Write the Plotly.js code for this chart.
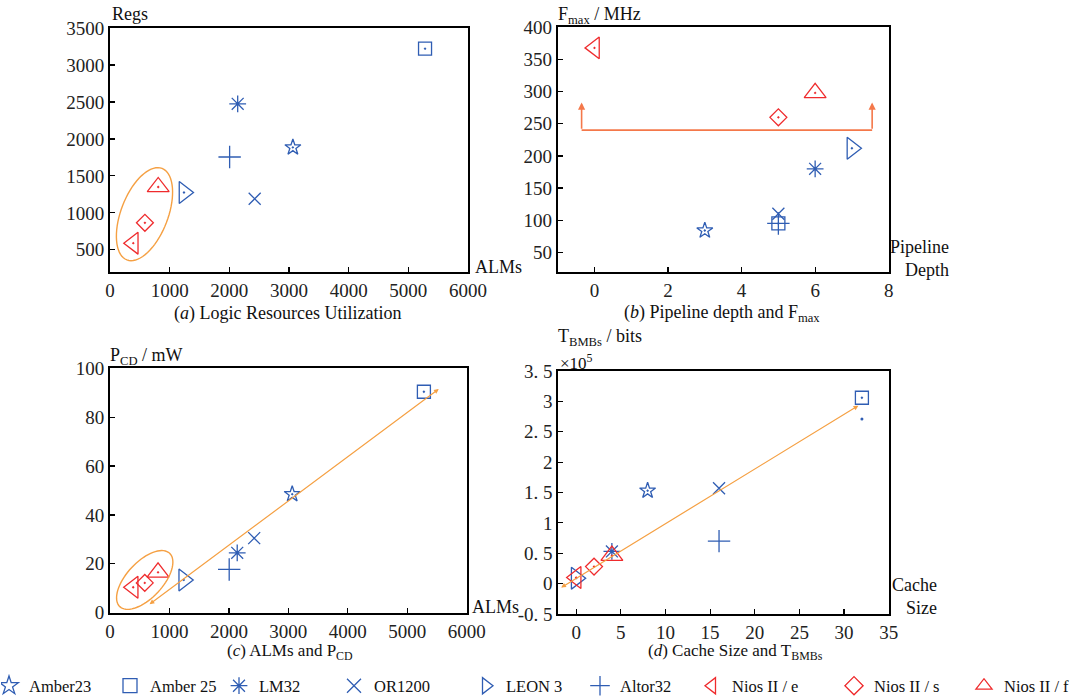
<!DOCTYPE html>
<html><head><meta charset="utf-8">
<script src="https://cdn.plot.ly/plotly-3.0.1.min.js"></script>
<style>html,body{margin:0;padding:0;background:#fff}</style>
</head><body><div id="chart" style="width:1084px;height:697px"></div>
<script>
// ---------- data ----------
const processors    = ['Amber23','Amber 25','LM32','OR1200','LEON 3','Altor32','Nios II / e','Nios II / s','Nios II / f'];
const alms          = [3065, 5280, 2140, 2425, 1240, 2005, 390, 585, 808];
const regs          = [1885, 3220, 2475, 1190, 1275, 1755, 590, 865, 1350];
const pipelineDepth = [3, 5, 6, 5, 7, 5, 0, 5, 6];
const fmaxMHz       = [84, 95, 180, 110, 212, 95, 368, 260, 298];
const pcdMW         = [48.5, 90.4, 24.5, 30.5, 13.4, 17.7, 10.4, 12.2, 16.5];
const cacheSize     = [8, 32, 4, 16, 0, 16, 0, 2, 4];
const tbmbsE5       = [1.53, 3.06, 0.53, 1.57, 0.09, 0.70, 0.10, 0.28, 0.46];
const strayCache    = [32];
const strayTbmbsE5  = [2.71];
const yTicksD       = [-0.5, 0, 0.5, 1, 1.5, 2, 2.5, 3, 3.5];
const yTickTextD    = ['-0. 5','0','0. 5','1','1. 5','2','2. 5','3','3. 5'];

// ---------- styles ----------
const BLUE = '#2f5db3', RED = '#ef2b2d', ORANGE = '#f5a043', ORANGE2 = '#f4784a';
const symbols    = ['star-open-dot','square-open-dot','asterisk-open','x-thin-open','triangle-right-open-dot','cross-thin-open','triangle-left-open-dot','diamond-open-dot','triangle-up-open-dot'];
const legSymbols = ['star-open','square-open','asterisk-open','x-thin-open','triangle-right-open','cross-thin-open','triangle-left-open','diamond-open','triangle-up-open'];
const colors  = [BLUE,BLUE,BLUE,BLUE,BLUE,BLUE,RED,RED,RED];
const sizes   = [12, 13, 14, 12, 19, 16, 19, 13, 19];
const legendX = [10, 131, 240, 355, 487, 601, 713, 855, 985];
const W = 1084, H = 697;
const M = {l:14, r:10, t:0, b:36};
const PW = W - M.l - M.r, PH = H - M.t - M.b;
const px2x = px => (px - M.l)/PW;
const py2y = py => (H - M.b - py)/PH;
const FONT = 'Liberation Serif';

const dom = {
  a: {x:[110, 468],   y:[272, 28],    xr:[0,6000], yr:[200,3500]},
  b: {x:[557.7,888.7],y:[271.7,27.3], xr:[-1,8],   yr:[20,400]},
  c: {x:[110,466.7],  y:[612.7,368.3],xr:[0,6000], yr:[0,100]},
  d: {x:[558.3,888.7],y:[614,371],    xr:[-2,35],  yr:[-0.5,3.5]}
};

const traces = [];
const panels = [
  {xa:'x',  ya:'y',  xs:alms,          ys:regs},
  {xa:'x2', ya:'y2', xs:pipelineDepth, ys:fmaxMHz},
  {xa:'x3', ya:'y3', xs:alms,          ys:pcdMW},
  {xa:'x4', ya:'y4', xs:cacheSize,     ys:tbmbsE5}
];
panels.forEach(p => {
  processors.forEach((name, i) => {
    traces.push({
      type:'scatter', mode:'markers', name:name,
      x:[p.xs[i]], y:[p.ys[i]], xaxis:p.xa, yaxis:p.ya,
      legendgroup:name, showlegend:false,
      marker:{symbol:symbols[i], color:colors[i], size:sizes[i], line:{color:colors[i], width:1.3}},
      cliponaxis:false
    });
  });
});
traces.push({type:'scatter', mode:'markers', x:strayCache, y:strayTbmbsE5, xaxis:'x4', yaxis:'y4',
  showlegend:false, marker:{color:BLUE, size:3}});
// legend entries (no data, legend symbol only)
processors.forEach((name, i) => {
  traces.push({type:'scatter', mode:'markers', name:name, x:[null], y:[null], xaxis:'x', yaxis:'y',
    legendgroup:name, showlegend:true, legend: i===0 ? 'legend' : 'legend'+(i+1),
    marker:{symbol:legSymbols[i], color:colors[i], size:14, line:{color:colors[i], width:1.3}}});
});

// ellipse path generator (pixel shape -> data coords)
function ellipsePath(d, cx, cy, a, b, thetaDeg){
  const pxX = (d.x[1]-d.x[0])/(d.xr[1]-d.xr[0]);
  const pxY = (d.y[0]-d.y[1])/(d.yr[1]-d.yr[0]);
  const th = thetaDeg*Math.PI/180;
  const u = [Math.sin(th), -Math.cos(th)], v = [Math.cos(th), Math.sin(th)];
  let s = '';
  for (let k=0;k<=72;k++){
    const t = k/72*2*Math.PI;
    const dx = a*Math.cos(t)*u[0] + b*Math.sin(t)*v[0];
    const dy = a*Math.cos(t)*u[1] + b*Math.sin(t)*v[1];
    const X = cx + dx/pxX, Y = cy - dy/pxY;
    s += (k===0?'M':'L') + X.toFixed(3) + ',' + Y.toFixed(3) + ' ';
  }
  return s + 'Z';
}

function axis(d, key, extra){
  const dm = key==='x' ? [px2x(d.x[0]), px2x(d.x[1])] : [py2y(d.y[0]), py2y(d.y[1])];
  return Object.assign({
    domain:dm, range:d[key+'r'], showline:true, mirror:true, linecolor:'#000', linewidth:2,
    ticks:'inside', ticklen:5, tickwidth:1.2, tickcolor:'#000', showgrid:false, zeroline:false,
    tickfont:{family:FONT, size:19, color:'#222'}, fixedrange:true, automargin:false
  }, extra);
}

const layout = {
  width:W, height:H, margin:{l:M.l, r:M.r, t:M.t, b:M.b, autoexpand:false}, paper_bgcolor:'#fff', plot_bgcolor:'#fff',
  font:{family:FONT, color:'#111'},
  xaxis:  axis(dom.a,'x',{anchor:'y',  tickvals:[0,1000,2000,3000,4000,5000,6000]}),
  yaxis:  axis(dom.a,'y',{anchor:'x',  tickvals:[500,1000,1500,2000,2500,3000,3500]}),
  xaxis2: axis(dom.b,'x',{anchor:'y2', tickvals:[0,2,4,6,8]}),
  yaxis2: axis(dom.b,'y',{anchor:'x2', tickvals:[50,100,150,200,250,300,350,400]}),
  xaxis3: axis(dom.c,'x',{anchor:'y3', tickvals:[0,1000,2000,3000,4000,5000,6000]}),
  yaxis3: axis(dom.c,'y',{anchor:'x3', tickvals:[0,20,40,60,80,100]}),
  xaxis4: axis(dom.d,'x',{anchor:'y4', tickvals:[0,5,10,15,20,25,30,35]}),
  yaxis4: axis(dom.d,'y',{anchor:'x4', tickvals:yTicksD, ticktext:yTickTextD}),
  shapes:[
    {type:'path', xref:'x', yref:'y', path:ellipsePath(dom.a, 578, 982, 49, 23.5, 21), line:{color:ORANGE, width:1.4}},
    {type:'path', xref:'x3', yref:'y3', path:ellipsePath(dom.c, 584, 13.4, 36.5, 18, 43), line:{color:ORANGE, width:1.4}},
    {type:'line', xref:'x2', yref:'y2', x0:-0.35, x1:7.55, y0:240, y1:240, line:{color:ORANGE2, width:1.8}}
  ],
  annotations:[]
};

// legends
legendX.forEach((lx, i) => {
  const key = i===0 ? 'legend' : 'legend'+(i+1);
  const left = Math.max(lx-21, 1);
  layout[key] = {orientation:'h', x:px2x(left), xanchor:'left', y:py2y(686), yanchor:'middle',
    indentation: (lx-21) - left,
    bgcolor:'rgba(0,0,0,0)', borderwidth:0, font:{family:FONT, size:16.5, color:'#111'},
    itemclick:false, itemdoubleclick:false};
});

const A = layout.annotations;
function txt(x, y, text, opts){
  A.push(Object.assign({xref:'paper', yref:'paper', x:px2x(x), y:py2y(y), text:text, showarrow:false,
    xanchor:'left', yanchor:'middle', font:{family:FONT, size:18, color:'#111'}}, opts||{}));
}
// axis labels
txt(110, 14, 'Regs');
txt(473, 267, 'ALMs');
txt(556, 15, 'F<sub>max</sub> / MHz');
txt(951, 258, 'Pipeline<br>Depth', {xanchor:'right', align:'right'});
txt(108, 357, 'P<sub>CD</sub> / mW');
txt(470, 607, 'ALMs');
txt(556, 337, 'T<sub>BMBs</sub> / bits');
txt(558, 362, '×10<sup>5</sup>', {font:{family:FONT, size:17, color:'#111'}});
txt(939, 596, 'Cache<br>Size', {xanchor:'right', align:'right'});
// captions
const cap = {family:FONT, size:18, color:'#111'};
const cap2 = {family:FONT, size:17, color:'#111'};
txt(287, 313, '(<i>a</i>) Logic Resources Utilization', {xanchor:'center', font:cap});
txt(722, 313, '(<i>b</i>) Pipeline depth and F<sub>max</sub>', {xanchor:'center', font:cap});
txt(290, 652, '(<i>c</i>) ALMs and P<sub>CD</sub>', {xanchor:'center', font:cap2});
txt(735, 652, '(<i>d</i>) Cache Size and T<sub>BMBs</sub>', {xanchor:'center', font:cap2});

// arrows
[-0.35, 7.55].forEach(xv => A.push({xref:'x2', yref:'y2', axref:'x2', ayref:'y2', x:xv, y:283, ax:xv, ay:240,
  text:'', showarrow:true, arrowhead:2, arrowsize:0.9, arrowwidth:1.6, arrowcolor:ORANGE2}));
A.push({xref:'x3', yref:'y3', axref:'x3', ayref:'y3', x:5530, y:91.5, ax:640, ay:3, text:'',
  showarrow:true, arrowhead:2, startarrowhead:2, arrowside:'end+start', arrowsize:0.8, startarrowsize:0.8, arrowwidth:1.2, arrowcolor:ORANGE});
A.push({xref:'x4', yref:'y4', axref:'x4', ayref:'y4', x:31.6, y:2.93, ax:-1.85, ay:-0.08, text:'',
  showarrow:true, arrowhead:2, startarrowhead:2, arrowside:'end+start', arrowsize:0.8, startarrowsize:0.8, arrowwidth:1.2, arrowcolor:ORANGE});

Plotly.newPlot('chart', traces, layout, {staticPlot:true, displayModeBar:false});
</script></body></html>
